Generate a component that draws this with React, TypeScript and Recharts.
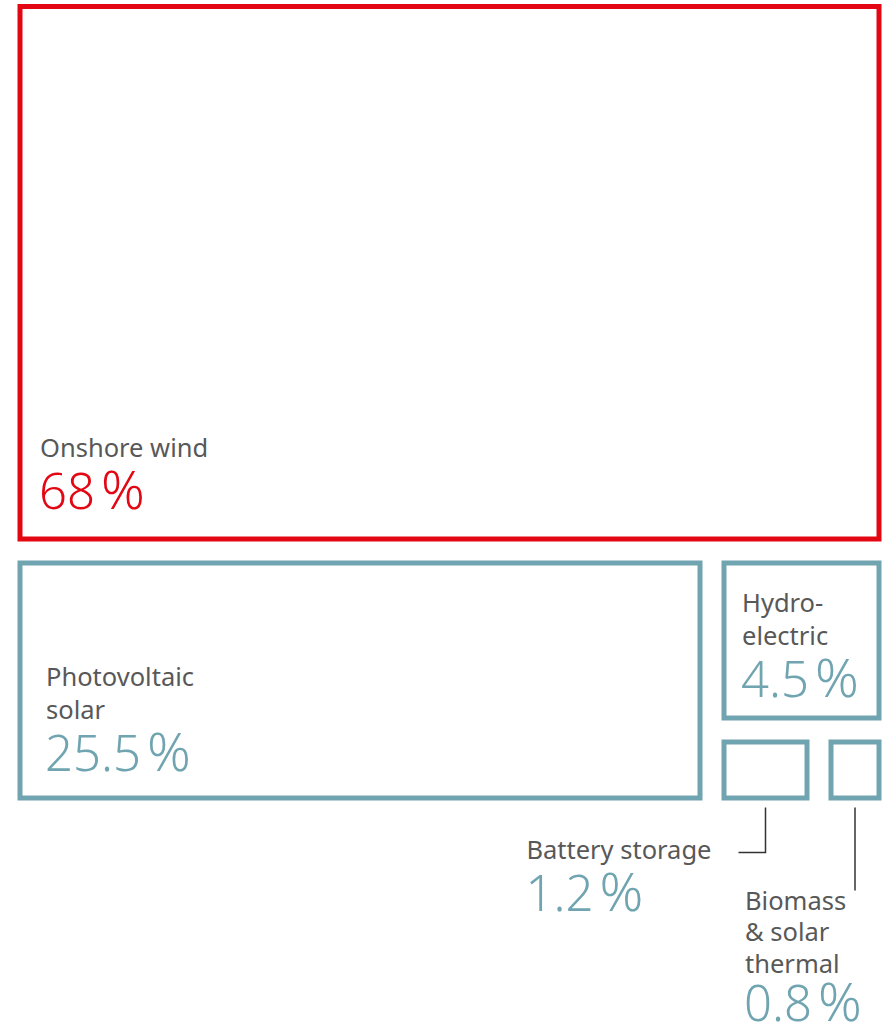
import { Treemap } from "recharts";

// share of capacity by source (%)
const sources = [
  "Onshore wind",
  "Photovoltaic solar",
  "Hydroelectric",
  "Battery storage",
  "Biomass & solar thermal",
];
const shares = [68, 25.5, 4.5, 1.2, 0.8];
const nameLines = [
  ["Onshore wind"],
  ["Photovoltaic", "solar"],
  ["Hydro-", "electric"],
  ["Battery storage"],
  ["Biomass", "& solar", "thermal"],
];
const pctLabels = ["68", "25.5", "4.5", "1.2", "0.8"];

const leaf = (i: number) => ({ name: sources[i], value: shares[i] });

// nesting forces the same split as the original: wind on top, the rest below
const treeData = [
  leaf(0),
  {
    name: "others",
    children: [
      leaf(1),
      {
        name: "small",
        children: [leaf(2), { name: "tiny", children: [leaf(3), leaf(4)] }],
      },
    ],
  },
];

const RED = "#e30613";
const TEAL = "#70a4b0";
const GREY = "#585858";
const FONT = "'Noto Sans', 'Open Sans', sans-serif";
const INSET = 12;
const LINE = 33;
const NAME_SIZE = 25.5;

// inside labels: left padding and distance of the % baseline from the box bottom
const insideLabel: Record<string, { dx: number; dy: number }> = {
  "Onshore wind": { dx: 20, dy: 30 },
  "Photovoltaic solar": { dx: 26, dy: 27 },
  Hydroelectric: { dx: 18, dy: 21 },
};

function Pct({ x, y, color, text }: { x: number; y: number; color: string; text: string }) {
  return (
    <text x={x} y={y} fontSize={49} fill={color} fontWeight={300}>
      {text}
      <tspan dx={6} fontSize={54}>%</tspan>
    </text>
  );
}

function Cell(props: any) {
  const { x, y, width, height, name, children } = props;
  const i = sources.indexOf(name);
  if (i < 0 || (children && children.length)) return <g />;

  // boxes touching the top of the chart sit closer to it
  const top = y < 1 ? 6.5 : INSET;
  const bx = x + INSET;
  const by = y + top;
  const bw = width - INSET * 2;
  const bh = height - top - INSET;
  const color = i === 0 ? RED : TEAL;
  const bottom = by + bh + 2.5;
  const cx = bx + bw / 2;
  const lines = nameLines[i];

  let label = null;
  if (insideLabel[name]) {
    const { dx, dy } = insideLabel[name];
    const pctY = by + bh - dy;
    const lastY = pctY - 52;
    label = (
      <g fontFamily={FONT}>
        {lines.map((t, k) => (
          <text
            key={k}
            x={bx + dx}
            y={lastY - (lines.length - 1 - k) * LINE}
            fontSize={NAME_SIZE}
            fill={GREY}
          >
            {t}
          </text>
        ))}
        <Pct x={bx + dx - 1} y={pctY} color={color} text={pctLabels[i]} />
      </g>
    );
  } else if (i === 3) {
    label = (
      <g fontFamily={FONT}>
        <polyline
          points={`${cx},${bottom + 7} ${cx},${bottom + 52} ${cx - 27},${bottom + 52}`}
          fill="none"
          stroke="#333"
          strokeWidth={1.5}
        />
        <text x={cx - 54} y={bottom + 58} fontSize={NAME_SIZE} fill={GREY} textAnchor="end">
          {lines[0]}
        </text>
        <Pct x={cx - 240} y={bottom + 110} color={color} text={pctLabels[i]} />
      </g>
    );
  } else {
    label = (
      <g fontFamily={FONT}>
        <line
          x1={cx}
          y1={bottom + 7}
          x2={cx}
          y2={bottom + 90}
          stroke="#333"
          strokeWidth={1.5}
        />
        {lines.map((t, k) => (
          <text
            key={k}
            x={cx - 110}
            y={bottom + 109 + k * 31.5}
            fontSize={NAME_SIZE}
            fill={GREY}
          >
            {t}
          </text>
        ))}
        <Pct x={cx - 111} y={bottom + 220} color={color} text={pctLabels[i]} />
      </g>
    );
  }

  return (
    <g>
      <rect x={bx} y={by} width={bw} height={bh} fill="#fff" stroke={color} strokeWidth={5} />
      {label}
    </g>
  );
}

export default function App() {
  return (
    <div style={{ width: 891, height: 1031, paddingLeft: 8, boxSizing: "border-box" }}>
      <style>{`
        html, body { margin: 0; padding: 0; overflow: hidden; }
        svg, .recharts-surface { overflow: visible !important; }
        .recharts-wrapper { overflow: visible !important; }
      `}</style>
      <Treemap
        width={883}
        height={810}
        data={treeData}
        dataKey="value"
        content={<Cell />}
        isAnimationActive={false}
      />
    </div>
  );
}
